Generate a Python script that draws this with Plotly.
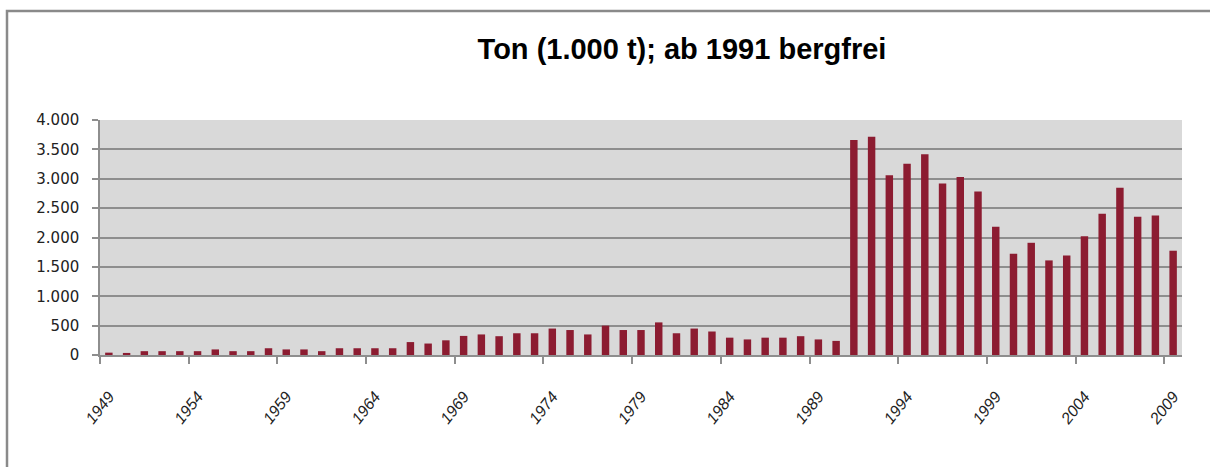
import plotly.graph_objects as go

years = list(range(1949, 2010))
values = [
    40, 35, 65, 65, 65, 65, 95, 65, 65, 115,
    95, 95, 65, 115, 115, 115, 115, 220, 195, 250,
    325, 350, 320, 370, 370, 450, 425, 350, 500, 425,
    425, 555, 370, 450, 400, 295, 265, 295, 295, 320,
    265, 240, 3660, 3715, 3060, 3255, 3415, 2920, 3030, 2785,
    2185, 1725, 1910, 1610, 1695, 2020, 2405, 2845, 2355, 2375,
    1775,
]
label_years = list(range(1949, 2010, 5))
label_text = ["<i>%d</i>" % y for y in label_years]
y_ticks = [0, 500, 1000, 1500, 2000, 2500, 3000, 3500, 4000]
title_text = "Ton (1.000 t); ab 1991 bergfrei"

BAR = "#8C1C31"
GRID = "#8E8E8E"

fig = go.Figure()
fig.add_trace(go.Bar(
    x=years, y=values, width=0.42,
    marker=dict(color=BAR, line=dict(width=0)),
    hoverinfo="x+y",
))

fig.update_layout(
    width=1210, height=467,
    margin=dict(l=100, r=28, t=120, b=112),
    paper_bgcolor="white",
    plot_bgcolor="#D9D9D9",
    separators=",.",
    showlegend=False,
    title=dict(
        text=title_text,
        font=dict(family="Liberation Sans", size=29, color="black", weight="bold"),
        xref="container", x=682 / 1210, xanchor="center",
        yref="container", y=1 - 49 / 467, yanchor="middle",
    ),
    xaxis=dict(
        range=[1948.5, 2009.5],
        tickmode="array", tickvals=label_years, ticktext=label_text,
        ticks="", showgrid=False, zeroline=False,
        showline=True, linecolor=GRID, linewidth=1.5,
        tickangle=-52,
        tickfont=dict(family="Liberation Sans", size=16, color="#222222"),
        ticklabelstandoff=24,
        minor=dict(tick0=1948.5, dtick=5, ticks="outside", ticklen=7,
                   tickwidth=1.5, tickcolor=GRID, showgrid=False),
    ),
    yaxis=dict(
        range=[0, 4000],
        tickmode="array", tickvals=y_ticks,
        tickformat=",d",
        showgrid=True, gridcolor=GRID, gridwidth=1.5,
        zeroline=False,
        showline=True, linecolor=GRID, linewidth=1.5,
        ticks="outside", ticklen=6, tickwidth=1.5, tickcolor=GRID,
        ticklabelstandoff=10,
        tickfont=dict(family="DejaVu Sans", size=15, color="#222222"),
    ),
    shapes=[dict(
        type="rect", xref="paper", yref="paper",
        x0=(7 - 100) / 1082, x1=1.05,
        y0=-0.7, y1=(355 - 11) / 235,
        line=dict(color="#8A8A8A", width=2.5), fillcolor="rgba(0,0,0,0)",
        layer="below",
    )],
)

fig.write_html(
    "out.html",
    config={"displayModeBar": False},
    post_script="document.body.style.margin='0';document.body.style.overflow='hidden';",
)
